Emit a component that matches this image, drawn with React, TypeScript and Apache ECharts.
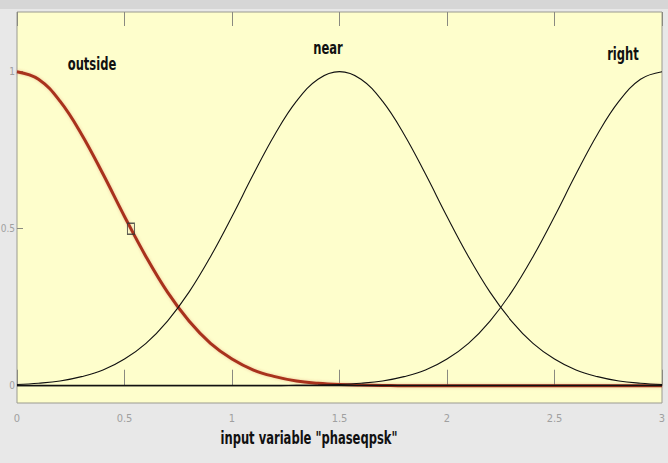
import React, { useEffect, useRef } from "react";
import * as echarts from "echarts";

const xValues = [0, 0.1, 0.2, 0.3, 0.4, 0.5, 0.6, 0.7, 0.8, 0.9, 1.0, 1.1, 1.2, 1.3, 1.4, 1.5, 1.6, 1.7, 1.8, 1.9, 2.0, 2.1, 2.2, 2.3, 2.4, 2.5, 2.6, 2.7, 2.8, 2.9, 3.0];
const outsideValues = [1, 0.976, 0.906, 0.801, 0.674, 0.539, 0.411, 0.298, 0.206, 0.135, 0.085, 0.05, 0.029, 0.015, 0.008, 0.004, 0.002, 0.001, 0, 0, 0, 0, 0, 0, 0, 0, 0, 0, 0, 0, 0];
const nearValues = [0.004, 0.008, 0.015, 0.029, 0.05, 0.085, 0.135, 0.206, 0.298, 0.411, 0.539, 0.674, 0.801, 0.906, 0.976, 1, 0.976, 0.906, 0.801, 0.674, 0.539, 0.411, 0.298, 0.206, 0.135, 0.085, 0.05, 0.029, 0.015, 0.008, 0.004];
const rightValues = [0, 0, 0, 0, 0, 0, 0, 0, 0, 0, 0, 0, 0, 0.001, 0.002, 0.004, 0.008, 0.015, 0.029, 0.05, 0.085, 0.135, 0.206, 0.298, 0.411, 0.539, 0.674, 0.801, 0.906, 0.976, 1];
const selectedPoint = [0.53, 0.5];
const xTicks = [0, 0.5, 1, 1.5, 2, 2.5, 3];
const yTicks = [0, 0.5, 1];
const mfNames = ["outside", "near", "right"];
const xTitle = 'input variable "phaseqpsk"';

const pair = (ys: number[]) => xValues.map((x, i) => [x, ys[i]]);

export default function App() {
  const ref = useRef<HTMLDivElement>(null);
  useEffect(() => {
    if (!ref.current) return;
    const chart = echarts.init(ref.current, null, { renderer: "svg" });
    const font = "'DejaVu Sans', sans-serif";
    const labelFont = { color: "#a0a0a0", fontSize: 10, fontFamily: "'DejaVu Sans Condensed', 'Liberation Sans', sans-serif" };
    const textStyle = (text: string) => ({
      text,
      font: `bold 17px ${font}`,
      fill: "#111",
      align: "center",
      verticalAlign: "middle",
    });
    chart.setOption({
      animation: false,
      backgroundColor: "#e8e8e8",
      grid: {
        left: 17,
        top: 12,
        width: 645,
        height: 391,
        outerBoundsMode: "none",
        containLabel: false,
        show: true,
        backgroundColor: "#fefecc",
        borderColor: "#9a9a90",
        borderWidth: 1,
      },
      xAxis: [
        {
          type: "value",
          min: 0,
          max: 3,
          interval: 0.5,
          splitLine: { show: false },
          axisLine: { show: false },
          axisTick: { inside: true, length: 16, lineStyle: { color: "#8a8a80" }, customValues: xTicks },
          axisLabel: { ...labelFont, fontSize: 11, margin: 10, customValues: xTicks },
        },
        {
          type: "value",
          position: "top",
          min: 0,
          max: 3,
          interval: 0.5,
          splitLine: { show: false },
          axisLine: { show: false },
          axisTick: { inside: true, length: 14, lineStyle: { color: "#8a8a80" } },
          axisLabel: { show: false },
        },
      ],
      yAxis: [
        {
          type: "value",
          min: -0.055,
          max: 1.19,
          splitLine: { show: false },
          axisLine: { show: false },
          axisTick: { inside: true, length: 6, lineStyle: { color: "#8a8a80" }, customValues: yTicks },
          axisLabel: { ...labelFont, margin: 2, customValues: yTicks },
        },
      ],
      series: [
        {
          type: "line",
          data: pair(outsideValues),
          smooth: 0.4,
          showSymbol: false,
          lineStyle: { color: "#a8301c", width: 3, shadowColor: "rgba(200,80,50,0.35)", shadowBlur: 3 },
          z: 2,
        },
        {
          type: "line",
          data: pair(nearValues),
          smooth: 0.4,
          showSymbol: false,
          lineStyle: { color: "#111", width: 1.1 },
          z: 3,
        },
        {
          type: "line",
          data: pair(rightValues),
          smooth: 0.4,
          showSymbol: false,
          lineStyle: { color: "#111", width: 1.1 },
          z: 3,
          markLine: {
            silent: true,
            symbol: "none",
            label: { show: false },
            lineStyle: { color: "#111", width: 1.3, type: "solid" },
            data: [{ yAxis: 0 }],
          },
        },
        {
          type: "scatter",
          data: [selectedPoint],
          symbol: "rect",
          symbolSize: [7, 11],
          itemStyle: { color: "rgba(0,0,0,0)", borderColor: "#333", borderWidth: 1.2 },
          z: 5,
        },
      ],
      graphic: [
        { type: "rect", left: 0, top: 0, shape: { width: 668, height: 9 }, style: { fill: "#d6d6d6" }, z: -1 },
        { type: "text", x: 92, y: 64, scaleX: 0.68, style: textStyle(mfNames[0]) },
        { type: "text", x: 328, y: 48, scaleX: 0.68, style: textStyle(mfNames[1]) },
        { type: "text", x: 623, y: 54, scaleX: 0.68, style: textStyle(mfNames[2]) },
        { type: "text", x: 309, y: 438, scaleX: 0.68, style: textStyle(xTitle) },
      ],
    });
    return () => chart.dispose();
  }, []);
  return <div ref={ref} style={{ position: "fixed", left: 0, top: 0, width: 668, height: 463 }} />;
}
